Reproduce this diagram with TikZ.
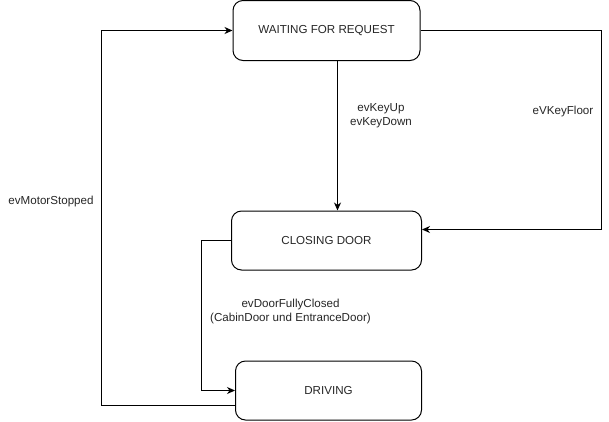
\documentclass[tikz,border=0pt]{standalone}
\usepackage{fontspec}
\setmainfont{Liberation Sans}
\usetikzlibrary{arrows.meta}
\begin{document}
\begin{tikzpicture}[x=1pt,y=-1pt,
  txt/.style={font=\fontsize{11.6}{14}\selectfont, text=black!85, inner sep=0pt, align=center},
  state/.style={txt, draw=black, line width=1pt, rounded corners=10pt},
  conn/.style={draw=black, line width=1pt},
  arr/.style={conn, -{Stealth[length=8pt,width=7pt,inset=2.5pt]}}]
\useasboundingbox (0,0) rectangle (609,421);
\node[state, minimum width=187pt, minimum height=60pt] (wait) at (326.5,30.5) {WAITING FOR REQUEST};
\node[state, minimum width=190pt, minimum height=59pt] (cls) at (326.5,240.5) {CLOSING DOOR};
\node[state, minimum width=186pt, minimum height=59pt] (drv) at (328.5,390.5) {DRIVING};
\coordinate (rt) at (601.5,30.5);
\coordinate (rb) at (601.5,229.5);
\coordinate (lt) at (101,30.5);
\coordinate (lb) at (101,405.5);
\coordinate (mt) at (201,240.5);
\coordinate (mb) at (201,390.5);
% WAITING -> CLOSING (keys)
\draw[arr] ([xshift=11pt]wait.south) -- ([xshift=11pt]wait.south |- cls.north);
% WAITING -> CLOSING (floor)
\draw[arr] (wait.east) -- (rt) -- (rb) -- (rb -| cls.east);
% CLOSING -> DRIVING
\draw[arr] (cls.west) -- (mt) -- (mb) -- (drv.west);
% DRIVING -> WAITING
\draw[arr] (lb -| drv.west) -- (lb) -- (lt) -- (wait.west);
% labels
\node[txt] (l1) at (381,116) {evKeyUp\\evKeyDown};
\node[txt] (l2) at (563,111.5) {eVKeyFloor};
\node[txt] (l3) at (51,201) {evMotorStopped};
\node[txt] (l4) at (290.5,311) {evDoorFullyClosed\\(CabinDoor und EntranceDoor)};
\end{tikzpicture}
\end{document}
